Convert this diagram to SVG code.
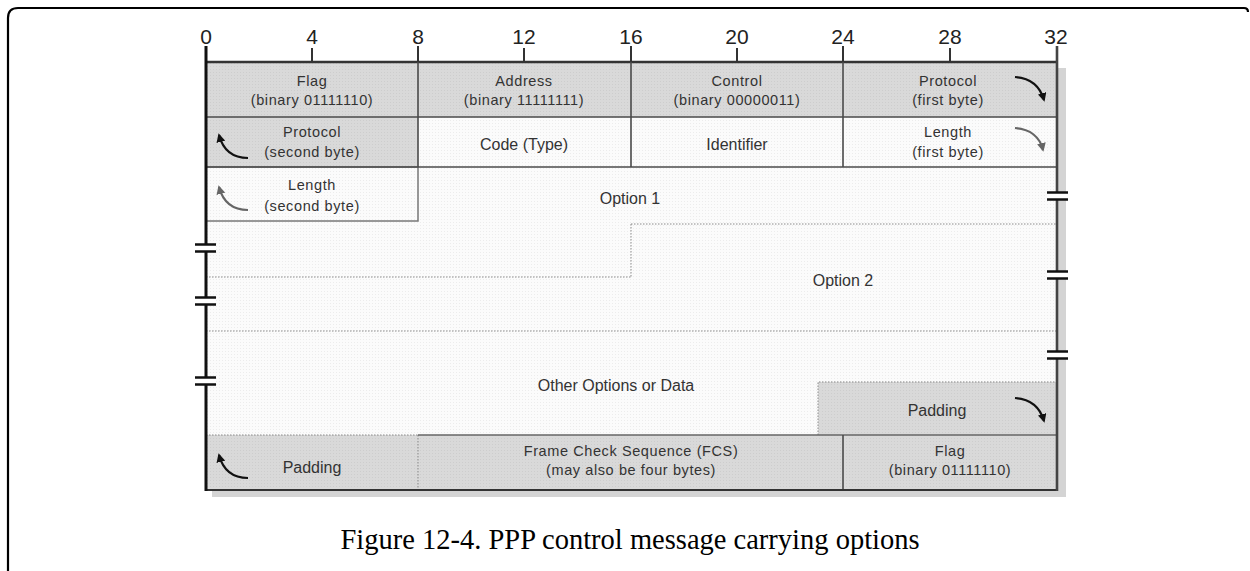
<svg xmlns="http://www.w3.org/2000/svg" width="1250" height="571" viewBox="0 0 1250 571">
<style>
.lbl{font-family:"Liberation Sans",Arial,sans-serif;fill:#333;text-anchor:middle}
.s{font-size:14.5px;letter-spacing:0.6px}
.b{font-size:16px}
.num{font-family:"Liberation Sans",Arial,sans-serif;font-size:21px;fill:#222;text-anchor:middle}
.cap{font-family:"Liberation Serif","Times New Roman",serif;font-size:28.5px;fill:#000;text-anchor:middle}
.grid{stroke:#4a4a4a;stroke-width:1.6;fill:none}
.dot{stroke:#8a8a8a;stroke-width:1;stroke-dasharray:1.5 1.5;fill:none}
.gray{fill:url(#pg)}
.light{fill:url(#pl)}
.arr{fill:none;stroke:#111;stroke-width:2.2;marker-end:url(#ah)}
.arrg{fill:none;stroke:#666;stroke-width:2.2;marker-end:url(#ahg)}
.brk{stroke:#111;stroke-width:2.5}
</style>
<defs>
<pattern id="pg" width="3" height="3" patternUnits="userSpaceOnUse"><rect width="3" height="3" fill="#d9d9d9"/><rect width="1" height="1" fill="#cdcdcd"/></pattern>
<pattern id="pl" width="3" height="3" patternUnits="userSpaceOnUse"><rect width="3" height="3" fill="#fbfbfb"/><rect width="1" height="1" fill="#ececec"/></pattern>
<marker id="ah" viewBox="0 0 10 10" refX="8" refY="5" markerWidth="4" markerHeight="4" orient="auto"><path d="M0,0 L10,5 L0,10 z" fill="#111"/></marker>
<marker id="ahg" viewBox="0 0 10 10" refX="8" refY="5" markerWidth="4" markerHeight="4" orient="auto"><path d="M0,0 L10,5 L0,10 z" fill="#666"/></marker>
</defs>
<rect width="1250" height="571" fill="#fff"/>
<!-- outer frame -->
<path d="M8,571 L8,18 Q8,8 18,8 L1244,8 Q1248,8 1248,12" fill="none" stroke="#000" stroke-width="2.2"/>
<!-- shadow -->
<rect x="1058" y="68" width="8" height="429" fill="#d4d4d4"/>
<rect x="212" y="490" width="854" height="7" fill="#d4d4d4"/>
<!-- ruler -->
<g id="ruler">
<text class="num" x="206" y="44">0</text>
<text class="num" x="312" y="44">4</text>
<text class="num" x="418" y="44">8</text>
<text class="num" x="524" y="44">12</text>
<text class="num" x="631" y="44">16</text>
<text class="num" x="737" y="44">20</text>
<text class="num" x="843" y="44">24</text>
<text class="num" x="950" y="44">28</text>
<text class="num" x="1056" y="44">32</text>
<g stroke="#333" stroke-width="2">
<line x1="312" y1="48" x2="312" y2="62"/>
<line x1="524" y1="48" x2="524" y2="62"/>
<line x1="737" y1="48" x2="737" y2="62"/>
<line x1="950" y1="48" x2="950" y2="62"/>
<line x1="418" y1="46" x2="418" y2="62"/>
<line x1="631" y1="46" x2="631" y2="62"/>
<line x1="843" y1="46" x2="843" y2="62"/>
</g>
</g>
<!-- option area background -->
<g id="options-area">
<rect x="206" y="167" width="850" height="268" class="light"/>
</g>
<!-- row 1 -->
<g id="flag-top"><rect x="206" y="62" width="212" height="55" class="gray"/>
<text class="lbl s" x="312" y="86">Flag</text><text class="lbl s" x="312" y="105">(binary 01111110)</text></g>
<g id="address"><rect x="418" y="62" width="213" height="55" class="gray"/>
<text class="lbl s" x="524" y="86">Address</text><text class="lbl s" x="524" y="105">(binary 11111111)</text></g>
<g id="control"><rect x="631" y="62" width="212" height="55" class="gray"/>
<text class="lbl s" x="737" y="86">Control</text><text class="lbl s" x="737" y="105">(binary 00000011)</text></g>
<g id="protocol-first"><rect x="843" y="62" width="213" height="55" class="gray"/>
<text class="lbl s" x="948" y="86">Protocol</text><text class="lbl s" x="948" y="105">(first byte)</text></g>
<!-- row 2 -->
<g id="protocol-second"><rect x="206" y="117" width="212" height="50" class="gray"/>
<text class="lbl s" x="312" y="137">Protocol</text><text class="lbl s" x="312" y="157">(second byte)</text></g>
<g id="code"><rect x="418" y="117" width="213" height="50" class="light"/>
<text class="lbl b" x="524" y="150">Code (Type)</text></g>
<g id="identifier"><rect x="631" y="117" width="212" height="50" class="light"/>
<text class="lbl b" x="737" y="150">Identifier</text></g>
<g id="length-first"><rect x="843" y="117" width="213" height="50" class="light"/>
<text class="lbl s" x="948" y="137">Length</text><text class="lbl s" x="948" y="157">(first byte)</text></g>
<!-- row 3 -->
<g id="length-second"><rect x="206" y="167" width="212" height="54" class="light" stroke="#777" stroke-width="1.5"/>
<text class="lbl s" x="312" y="190">Length</text><text class="lbl s" x="312" y="211">(second byte)</text></g>
<g id="option1"><text class="lbl b" x="630" y="204">Option 1</text></g>
<g id="option2"><text class="lbl b" x="843" y="286">Option 2</text></g>
<g id="other-options"><text class="lbl b" x="616" y="391">Other Options or Data</text></g>
<g id="padding-right"><rect x="818" y="382" width="238" height="53" class="gray"/>
<path d="M818,435 L818,382 L1056,382" class="dot" stroke="#666"/>
<text class="lbl b" x="937" y="416">Padding</text></g>
<!-- bottom row -->
<g id="padding-bottom"><rect x="206" y="435" width="212" height="55" class="gray"/>
<text class="lbl b" x="312" y="473">Padding</text></g>
<g id="fcs"><rect x="418" y="435" width="425" height="55" class="gray"/>
<text class="lbl s" x="631" y="456">Frame Check Sequence (FCS)</text><text class="lbl s" x="631" y="475">(may also be four bytes)</text></g>
<g id="flag-bottom"><rect x="843" y="435" width="213" height="55" class="gray"/>
<text class="lbl s" x="950" y="456">Flag</text><text class="lbl s" x="950" y="475">(binary 01111110)</text></g>
<!-- dotted option boundaries -->
<g id="option-lines">
<path d="M631,224 L1056,224 M631,224 L631,277 M206,277 L631,277 M206,331 L1056,331" class="dot"/>
<path d="M206,435 L418,435 M418,435 L418,490" class="dot" stroke="#333" stroke-width="1.6"/>
</g>
<!-- grid lines -->
<g id="grid">
<line x1="206" y1="62" x2="1056" y2="62" stroke="#333" stroke-width="2.4"/>
<line x1="206" y1="117" x2="1056" y2="117" class="grid"/>
<line x1="206" y1="167" x2="1056" y2="167" class="grid"/>
<line x1="418" y1="62" x2="418" y2="167" class="grid"/>
<line x1="631" y1="62" x2="631" y2="167" class="grid"/>
<line x1="843" y1="62" x2="843" y2="167" class="grid"/>
<line x1="418" y1="435" x2="1056" y2="435" stroke="#666" stroke-width="1.6"/>
<line x1="843" y1="435" x2="843" y2="490" class="grid"/>
<line x1="206" y1="490" x2="1056" y2="490" stroke="#333" stroke-width="2.2"/>
<line x1="206" y1="46" x2="206" y2="491" stroke="#111" stroke-width="3"/>
<line x1="1057" y1="46" x2="1057" y2="491" stroke="#444" stroke-width="2.6"/>
</g>
<!-- break marks -->
<g id="breaks">
<rect x="195" y="245" width="21" height="6" fill="#fff"/>
<line x1="195" y1="244.5" x2="216" y2="244.5" class="brk"/><line x1="195" y1="251.5" x2="216" y2="251.5" class="brk"/>
<rect x="195" y="298" width="21" height="6" fill="#fff"/>
<line x1="195" y1="297.5" x2="216" y2="297.5" class="brk"/><line x1="195" y1="304.5" x2="216" y2="304.5" class="brk"/>
<rect x="195" y="378" width="21" height="6" fill="#fff"/>
<line x1="195" y1="377.5" x2="216" y2="377.5" class="brk"/><line x1="195" y1="384.5" x2="216" y2="384.5" class="brk"/>
<rect x="1047" y="193" width="21" height="6" fill="#fff"/>
<line x1="1047" y1="192.5" x2="1068" y2="192.5" class="brk"/><line x1="1047" y1="199.5" x2="1068" y2="199.5" class="brk"/>
<rect x="1047" y="272" width="21" height="6" fill="#fff"/>
<line x1="1047" y1="271.5" x2="1068" y2="271.5" class="brk"/><line x1="1047" y1="278.5" x2="1068" y2="278.5" class="brk"/>
<rect x="1047" y="352" width="21" height="6" fill="#fff"/>
<line x1="1047" y1="351.5" x2="1068" y2="351.5" class="brk"/><line x1="1047" y1="358.5" x2="1068" y2="358.5" class="brk"/>
</g>
<!-- curved arrows -->
<g id="connectors">
<path d="M1015,77 C1030,78 1040,86 1044,100" class="arr"/>
<path d="M1015,128 C1030,129 1040,137 1043,150" class="arrg"/>
<path d="M1015,398 C1030,399 1040,407 1044,421" class="arr"/>
<path d="M248,158 C233,158 223,150 219,135" class="arr"/>
<path d="M248,210 C233,210 223,202 219,187" class="arrg"/>
<path d="M248,478 C233,478 223,470 219,455" class="arr"/>
</g>
<text class="cap" x="630" y="549">Figure 12-4. PPP control message carrying options</text>
</svg>
